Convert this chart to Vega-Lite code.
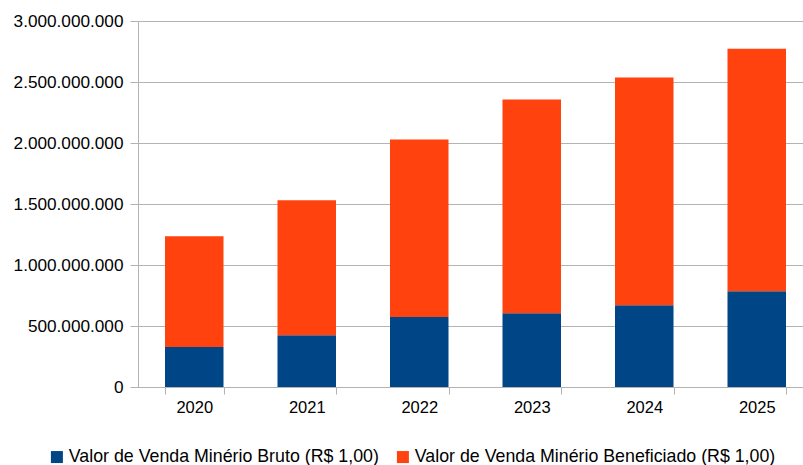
{
  "$schema": "https://vega.github.io/schema/vega-lite/v6.json",
  "width": 665,
  "height": 366,
  "autosize": "none",
  "padding": {"left": 138, "top": 21, "right": 0, "bottom": 78},
  "background": "white",
  "config": {
    "locale": {"number": {"decimal": ",", "thousands": ".", "grouping": [3], "currency": ["R$ ", ""]}},
    "font": "Liberation Sans",
    "view": {"stroke": null},
    "axis": {
      "labelFont": "Liberation Sans",
      "labelFontSize": 16.5,
      "labelColor": "#000000",
      "domainColor": "#b3b3b3",
      "tickColor": "#b3b3b3",
      "gridColor": "#b3b3b3",
      "title": null
    },
    "legend": {
      "labelFont": "Liberation Sans",
      "labelFontSize": 17.8,
      "labelColor": "#000000"
    }
  },
  "data": {
    "values": [
      {"year": "2020", "series": "Valor de Venda Minério Bruto (R$ 1,00)", "value": 327000000},
      {"year": "2020", "series": "Valor de Venda Minério Beneficiado (R$ 1,00)", "value": 908000000},
      {"year": "2021", "series": "Valor de Venda Minério Bruto (R$ 1,00)", "value": 425000000},
      {"year": "2021", "series": "Valor de Venda Minério Beneficiado (R$ 1,00)", "value": 1105000000},
      {"year": "2022", "series": "Valor de Venda Minério Bruto (R$ 1,00)", "value": 573000000},
      {"year": "2022", "series": "Valor de Venda Minério Beneficiado (R$ 1,00)", "value": 1456000000},
      {"year": "2023", "series": "Valor de Venda Minério Bruto (R$ 1,00)", "value": 605000000},
      {"year": "2023", "series": "Valor de Venda Minério Beneficiado (R$ 1,00)", "value": 1751000000},
      {"year": "2024", "series": "Valor de Venda Minério Bruto (R$ 1,00)", "value": 671000000},
      {"year": "2024", "series": "Valor de Venda Minério Beneficiado (R$ 1,00)", "value": 1865000000},
      {"year": "2025", "series": "Valor de Venda Minério Bruto (R$ 1,00)", "value": 785000000},
      {"year": "2025", "series": "Valor de Venda Minério Beneficiado (R$ 1,00)", "value": 1988000000}
    ]
  },
  "mark": {"type": "bar"},
  "encoding": {
    "x": {
      "field": "year",
      "type": "ordinal",
      "scale": {"range": [0, 675], "paddingInner": 0.48, "paddingOuter": 0.24},
      "axis": {
        "labelAngle": 0,
        "tickBand": "extent",
        "tickSize": 7,
        "labelPadding": 5,
        "grid": false
      }
    },
    "y": {
      "field": "value",
      "type": "quantitative",
      "stack": "zero",
      "scale": {"domain": [0, 3000000000], "nice": false},
      "axis": {
        "values": [0, 500000000, 1000000000, 1500000000, 2000000000, 2500000000, 3000000000],
        "format": ",d",
        "labelFontSize": 17.2,
        "tickSize": 8,
        "labelPadding": 7,
        "grid": true
      }
    },
    "color": {
      "field": "series",
      "type": "nominal",
      "scale": {
        "domain": ["Valor de Venda Minério Bruto (R$ 1,00)", "Valor de Venda Minério Beneficiado (R$ 1,00)"],
        "range": ["#004586", "#ff420e"]
      },
      "legend": {
        "title": null,
        "orient": "none",
        "direction": "horizontal",
        "legendX": -90,
        "legendY": 427,
        "symbolType": "square",
        "symbolSize": 144,
        "symbolStrokeWidth": 0,
        "symbolOpacity": 1,
        "labelOffset": 3,
        "columnPadding": 15,
        "labelLimit": 500
      }
    },
    "order": {"field": "series", "sort": "descending"}
  }
}
